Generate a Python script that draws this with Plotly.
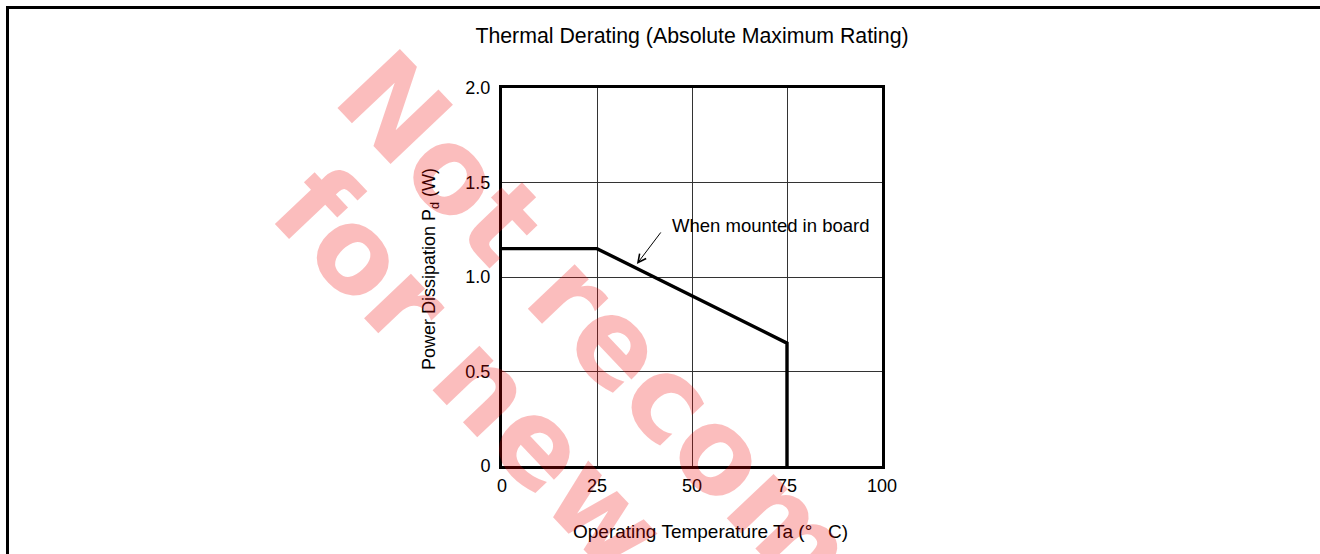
import plotly.graph_objects as go

# ---- data ----
temp_c = [0, 25, 75, 75]
power_w = [1.15, 1.15, 0.65, 0]

x_tick_vals = [0, 25, 50, 75, 100]
x_tick_text = ["0", "25", "50", "75", "100"]
y_tick_vals = [0, 0.5, 1.0, 1.5, 2.0]
y_tick_text = ["0", "0.5", "1.0", "1.5", "2.0"]

title_text = "Thermal Derating (Absolute Maximum Rating)"
x_title = "Operating Temperature Ta (°\u00a0\u00a0\u00a0C)"
y_title = "Power Dissipation P<sub>d</sub> (W)"
note_text = "When mounted in board"
watermark_lines = ["Not recommended", "for new design"]

FONT = "Liberation Sans, Arial, Helvetica, sans-serif"
WM_FONT = "DejaVu Sans, Liberation Sans, sans-serif"

fig = go.Figure()
fig.add_trace(go.Scatter(
    x=temp_c, y=power_w, mode="lines",
    line=dict(color="black", width=3.4),
    hoverinfo="skip", showlegend=False, cliponaxis=False,
))

axis_common = dict(
    showline=True, mirror=True, linecolor="black", linewidth=3,
    showgrid=True, gridcolor="#333333", gridwidth=1,
    zeroline=False, ticks="", tickfont=dict(family=FONT, size=18, color="black"),
    fixedrange=True,
)

fig.update_xaxes(range=[0, 100], tickvals=x_tick_vals, ticktext=x_tick_text,
                 ticklabelstandoff=1, **axis_common)
fig.update_yaxes(range=[0, 2.0], tickvals=y_tick_vals, ticktext=y_tick_text,
                 ticklabelstandoff=5, **axis_common)

W, H = 1320, 554
ml, mr, mt, mb = 502, 438, 88, 88
pw, ph = W - ml - mr, H - mt - mb


def px(xp):
    return (xp - ml) / pw


def py(yp):
    return (H - mb - yp) / ph


annotations = [
    # y-axis title
    dict(text=y_title, xref="paper", yref="paper", x=px(430), y=py(269),
         textangle=-90, showarrow=False, xanchor="center", yanchor="middle",
         font=dict(family=FONT, size=18, color="black")),
    # x-axis title
    dict(text=x_title, xref="paper", yref="paper", x=px(710), y=py(531),
         showarrow=False, xanchor="center", yanchor="middle",
         font=dict(family=FONT, size=19, color="black")),
    # note text
    dict(text=note_text, xref="x", yref="y", x=44.2, y=1.275,
         showarrow=False, xanchor="left", yanchor="middle",
         font=dict(family=FONT, size=18.5, color="black")),
    # note arrow
    dict(text="", xref="x", yref="y", x=35.5, y=1.069,
         ax=25, ay=-33, axref="pixel", ayref="pixel",
         showarrow=True, arrowhead=5, arrowsize=1.6, arrowwidth=1, arrowcolor="black"),
    # watermark
    dict(text=watermark_lines[0], xref="paper", yref="paper", x=px(781), y=py(516),
         textangle=46.5, showarrow=False, xanchor="center", yanchor="middle",
         font=dict(family=WM_FONT, size=118, color="rgba(240,0,0,0.26)", weight="bold")),
    dict(text=watermark_lines[1], xref="paper", yref="paper", x=px(636), y=py(545),
         textangle=46.5, showarrow=False, xanchor="center", yanchor="middle",
         font=dict(family=WM_FONT, size=118, color="rgba(240,0,0,0.26)", weight="bold")),
]

shapes = [
    dict(type="rect", xref="paper", yref="paper",
         x0=px(7.5), x1=px(1500), y0=py(7.5), y1=py(800),
         line=dict(color="black", width=3), fillcolor="rgba(0,0,0,0)", layer="above"),
]

fig.update_layout(
    width=W, height=H,
    margin=dict(l=ml, r=mr, t=mt, b=mb, autoexpand=False),
    paper_bgcolor="white", plot_bgcolor="white",
    title=dict(text=title_text, x=0.5, xref="paper", xanchor="center",
               y=1 - 36 / H, yref="container", yanchor="middle",
               font=dict(family=FONT, size=21.3, color="black")),
    annotations=annotations,
    shapes=shapes,
    showlegend=False,
)

fig.write_html(
    "out.html",
    config={"displayModeBar": False},
    post_script="document.body.style.margin='0';document.body.style.overflow='hidden';",
)
